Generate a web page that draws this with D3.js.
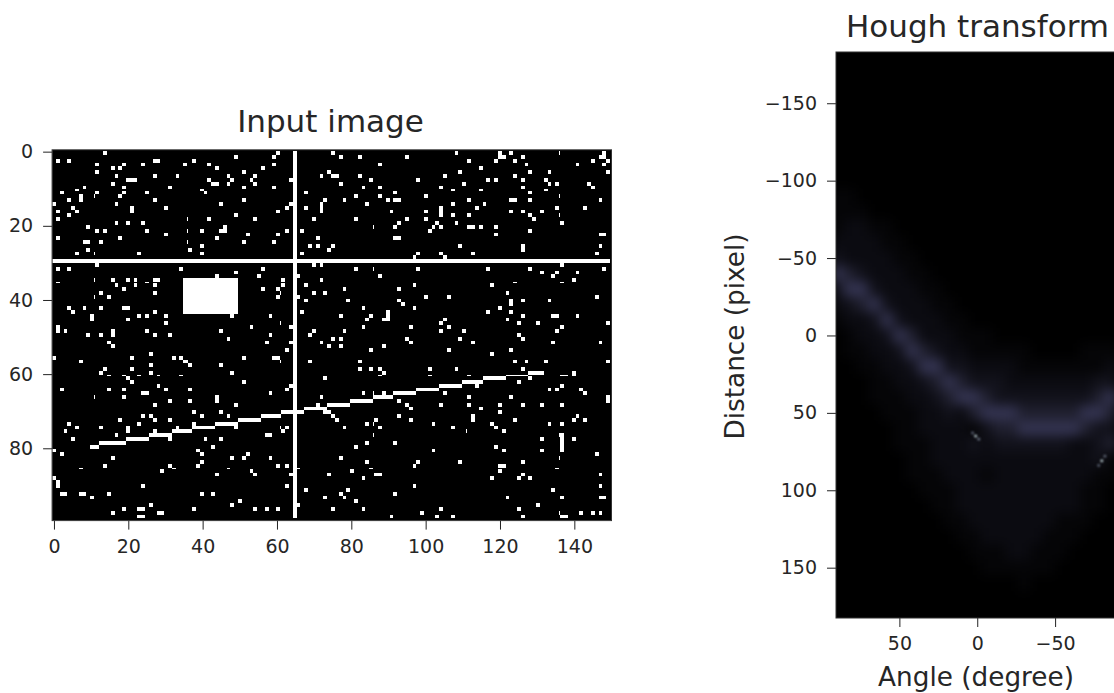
<!DOCTYPE html>
<html><head><meta charset="utf-8">
<script src="https://cdn.jsdelivr.net/npm/d3@7"></script>
<style>
html,body{margin:0;padding:0;background:#fff;overflow:hidden}
svg{display:block}
text{font-family:"DejaVu Sans",sans-serif;fill:#262626}
</style></head><body><div id="c"></div>
<script>
// ---------- Input image: white pixels ----------
const imgTickX=[0,20,40,60,80,100,120,140];
const imgTickY=[0,20,40,60,80];
const hLineRow=30;
const vLineCol=65;
const blockCols=[35,49];
const blockRows=[35,44];
// runs of the slanted segment: [first col, last col, row]
const slantRuns=[[10,12,80],[13,19,79],[20,25,78],[26,31,77],[32,37,76],[38,43,75],[44,49,74],[50,55,73],[56,61,72],[62,67,71],[68,73,70],[74,79,69],[80,85,68],[86,91,67],[92,97,66],[98,103,65],[104,109,64],[110,115,63],[116,121,62],[122,127,61],[128,131,60]];
// isolated noise pixels: row number, then its columns
const noise=[
[1,[14,60,75,108,120,123,136,148]],[2,[49,59,77,82,95,120,121,126,147,148]],[3,[1,4,27,28,38,112,119,124,145,149]],
[4,[12,19,24,35,42,59,88,127,141,148]],[5,[16,18,44,56,115]],[6,[12,51,74,109,128,133,149]],
[7,[17,27,33,47,54,72,75,76,82,105,124]],[8,[20,21,22,42,48,53,64,85,98,117,119,126,132]],[9,[16,43,44,47,54,77,110,133,135,144]],
[10,[8,19,31,51,59,83,88,104,126,145]],[11,[6,40,107,115,132]],[12,[2,12,19,25,41,68,92,128]],
[13,[7,11,18,81,88,100,136]],[14,[4,7,27,51,73,78,90,92,93,112,123,124,128,147]],[15,[0,17,45,64,72,84,107,116]],
[16,[5,21,30,63,68,72,104,114,135,143]],[17,[1,6,21,60,72,91,100,104,123,126,131]],[18,[4,49,104,107,112,128,136]],
[19,[1,36,42,54,70,81,95,100,129]],[20,[17,20,24,93,103,108,137]],[21,[9,46,86,92,102,104,112,113,115,119]],
[22,[12,14,25,36,40,45,46,63,67,101,128]],[23,[30,52,60,119,147,148]],[24,[1,18,44,71,92,93]],
[25,[8,9,13,36,51,59]],[26,[40,69,71,75,109,126,147]],[27,[9,37,74,126]],[28,[6,11,23,40,67,98,104,113,146]],
[29,[97,105]],[31,[12,70,72,137]],[32,[1,4,34,56,81,86,98,117,128,148]],[33,[49,131,135,141]],
[34,[44,55,66,88,134]],[35,[11,16,20,22,27,28,62,72,140]],[36,[1,25,124,137]],[37,[17,22,27,62,68,97,118]],
[38,[19,56,60,78,93]],[39,[13,27,61,70,73,122]],[40,[11,15,60,66,100,106,146]],[41,[68,79,93,123,126,133]],
[42,[94,123]],[43,[4,8,13,19,20,83,97,120]],[44,[5,27,67,90,117,123]],[45,[10,23,25,30,48,58,77,85,90,126,134,135,141]],
[46,[10,20,84,89,90,105,122]],[47,[30,61,104,125,130,149]],[48,[1,53,64,83,96,106,137]],[49,[1,3,16,25,45,70,78,104,110,135]],
[50,[9,13,16,27,31,58,69,125]],[51,[47,75,77,95,109,126]],[52,[15,57,64,72,96,113,134,147]],[53,[16,74,77,89]],
[54,[63,85,106,123]],[55,[26,118]],[56,[0,21,32,34,51,59,60]],[57,[7,35,36,61,69,82,124,127,132,149]],
[58,[26,37,45]],[59,[14,21,82,85,88,101,108,126]],[60,[13,26,48,89,140]],[61,[15,19,23,28,34,88,101,112,137,138,140]],
[62,[20,73,128]],[63,[21,51,125]],[64,[28,64,114,137]],[65,[2,15,19,30,37,63,133,135,142]],
[66,[24,25,58,83,86,89,105,143]],[67,[11,19,44,72,112,123,149]],[68,[31,37,44,93,149]],[69,[27,49,71,74,95,104,112,120,126,131,137]],
[70,[72,96,115]],[71,[38,45,73,74,120]],[72,[24,26,40,47,75,93,113,141]],[73,[18,27,31,76,87,96,113,124,140,143]],
[74,[4,23,38,84,86,102,118,133,137]],[75,[6,13,20,33,49,61,63,78,88,107,119]],[76,[3,20,27,62,111,121]],[77,[17,57,58,86,136,137]],
[78,[5,31,41,45,131,137,140]],[79,[84,92,137]],[80,[43,81,119,137]],[81,[0,39,102,121,131,137]],
[82,[2,40,52,146]],[83,[16,48,51,58,77,136]],[84,[40,84,98,109,126]],[85,[14,31,39,60,63,97,120,121]],
[86,[7,32,47,66,85,135]],[87,[29,53,80,120]],[88,[44,54,64,74,87,88,126,147]],[89,[0,83,118,125,128]],
[90,[1]],[91,[1,24,63,97,147]],[92,[68,79,134]],[93,[2,3,7,8,15,40,43,77,92]],
[94,[10,73,78,122,137,147,148]],[95,[50,81]],[96,[26,48,66,130]],[97,[19,23,24,38,54,57,60,75,83,104,125]],
[98,[16,28,29,99,136,142,145,147]],[99,[23,24,91,103,107,126,137,138]]];

// ---------- Hough transform: brightness levels ----------
const houghTickX=[50,0,-50];
const houghTickY=[-150,-100,-50,0,50,100,150];
const houghAngles=[90,82,74,66,58,50,42,34,26,18,10,2,-6,-14,-22,-30,-38,-46,-54,-62,-70,-78,-86];
const houghDistances=[-100,-90,-80,-70,-60,-50,-40,-30,-20,-10,0,10,20,30,40,50,60,70,80,90,100,110,120,130,140,150,160];
const houghLevels=[
"00000000000000000000000",
"11000000000000000000000",
"11100000000000000000000",
"12211000000000000000000",
"22221100000000000000000",
"32222110000000000000000",
"54322211000000000000000",
"35532221100000000000000",
"23453222110000000000000",
"12235322211000000000000",
"01223542221110000000000",
"01122354322111110000111",
"00112235533222211111112",
"00011223454333222222233",
"00011122345543333333345",
"00001112232455544444554",
"00000112222134455555433",
"00000111222323333332234",
"00000011222222222222231",
"00000011122212222222211",
"00000001112222222222110",
"00000000112222222222110",
"00000000011222222211100",
"00000000001122222111000",
"00000000000111221110000",
"00000000000011111100000",
"00000000000000010000000"];
// bright crossing points: angle, distance, level
const houghPeakAngles=[3,1,-1,-78,-80,-82];
const houghPeakDistances=[63,65,67,84,81,78];
const houghPeakLevels=[.3,1,.4,.3,1,.35];

const W=1114,H=693;
const svg=d3.select("#c").append("svg").attr("width",W).attr("height",H);
const defs=svg.append("defs");

// ---- scales ----
const xL=d3.scaleLinear().domain([-0.5,150]).range([52.1,611.5]);
const yL=d3.scaleLinear().domain([-0.5,99.5]).range([149.8,520.6]);
const xR=d3.scaleLinear().domain([90.7,-90]).range([836,1117.4]);
const yR=d3.scaleLinear().domain([-183.1,182.5]).range([52,618]);

// the picture's resampling shows every 25th cell narrower
const wide=1.028,thin=0.343;
const edge=i=>{const k=Math.floor((i+13)/25);return wide*i-(wide-thin)*k;};
const cellX=i=>xL(-0.5+edge(i));
const cellY=i=>yL(-1.15+edge(i));
const cellW=i=>xL(edge(i+1))-xL(edge(i));
const cellH=i=>yL(edge(i+1))-yL(edge(i));

// ---- build cells from data ----
const cells=[];
noise.forEach(([r,cs])=>cs.forEach(c=>cells.push([c,r])));
slantRuns.forEach(([a,b,r])=>d3.range(a,b+1).forEach(c=>cells.push([c,r])));
d3.range(0,150).forEach(c=>cells.push([c,hLineRow]));
d3.range(1,100).forEach(r=>cells.push([vLineCol,r]));
d3.range(blockCols[0],blockCols[1]+1).forEach(c=>d3.range(blockRows[0],blockRows[1]+1).forEach(r=>cells.push([c,r])));

// ---- left panel ----
const lx=xL(-0.5),ly=yL(-0.5),lw=xL(150)-lx,lh=yL(99.5)-ly;
defs.append("clipPath").attr("id","clipL").append("rect").attr("x",lx).attr("y",ly).attr("width",lw).attr("height",lh);
const gL=svg.append("g").attr("clip-path","url(#clipL)");
gL.append("rect").attr("x",lx).attr("y",ly).attr("width",lw).attr("height",lh).attr("fill","#000");
gL.append("g").attr("shape-rendering","crispEdges").selectAll("rect").data(cells).join("rect")
  .attr("x",d=>cellX(d[0])).attr("y",d=>cellY(d[1]))
  .attr("width",d=>cellW(d[0])).attr("height",d=>cellH(d[1])).attr("fill","#fff");

// ---- right panel ----
const rx=xR(90.7),ry=yR(-183.1),rw=xR(-90)-rx,rh=yR(182.5)-ry;
defs.append("clipPath").attr("id","clipR").append("rect").attr("x",rx).attr("y",ry).attr("width",rw).attr("height",rh);
const blur=defs.append("filter").attr("id","soft").attr("filterUnits","userSpaceOnUse").attr("x",780).attr("y",0).attr("width",400).attr("height",693).attr("color-interpolation-filters","sRGB");
blur.append("feGaussianBlur").attr("stdDeviation",6);
const spark=defs.append("filter").attr("id","spark").attr("filterUnits","userSpaceOnUse").attr("x",780).attr("y",0).attr("width",400).attr("height",693).attr("color-interpolation-filters","sRGB");
spark.append("feGaussianBlur").attr("stdDeviation",0.8);
const color=d3.scaleLinear().domain([0,1,2,3,4,5]).range(["#000000","#050507","#0b0b11","#12121b","#20202f","#333350"]);
const gR=svg.append("g").attr("clip-path","url(#clipR)");
gR.append("rect").attr("x",rx).attr("y",ry).attr("width",rw).attr("height",rh).attr("fill","#000");
const dA=Math.abs(xR(8)-xR(0)),dD=Math.abs(yR(10)-yR(0));
const heat=[];
houghLevels.forEach((row,i)=>row.split("").forEach((v,j)=>heat.push({a:houghAngles[j],d:houghDistances[i],v:+v})));
gR.append("g").attr("filter","url(#soft)").selectAll("rect").data(heat).join("rect")
  .attr("x",d=>xR(d.a)-dA/2).attr("y",d=>yR(d.d)-dD/2).attr("width",dA+.5).attr("height",dD+.5).attr("fill",d=>color(d.v));
gR.append("g").attr("filter","url(#spark)").selectAll("ellipse").data(houghPeakAngles).join("ellipse")
  .attr("cx",d=>xR(d)).attr("cy",(d,i)=>yR(houghPeakDistances[i])).attr("rx",1.4).attr("ry",1.4)
  .attr("fill",(d,i)=>d3.interpolateRgb("#2e2e46","#c8dce0")(houghPeakLevels[i]));

// ---- axes ----
function axis(g,ax){
  g.call(ax);
  g.selectAll("text").style("font-size","19px");
  g.selectAll(".tick line").attr("stroke","#222").attr("stroke-width",1);
  g.select(".domain").remove();
}
const fmt=d=>d<0?"\u2212"+Math.abs(d):""+d;
axis(svg.append("g").attr("transform",`translate(0,${yL(99.5)})`),d3.axisBottom(xL).tickValues(imgTickX).tickFormat(fmt).tickSize(9).tickPadding(10));
axis(svg.append("g").attr("transform",`translate(${lx},0)`),d3.axisLeft(yL).tickValues(imgTickY).tickFormat(fmt).tickSize(9).tickPadding(10));
axis(svg.append("g").attr("transform",`translate(0,${yR(182.5)})`),d3.axisBottom(xR).tickValues(houghTickX).tickFormat(fmt).tickSize(9).tickPadding(10));
axis(svg.append("g").attr("transform",`translate(${rx},0)`),d3.axisLeft(yR).tickValues(houghTickY).tickFormat(fmt).tickSize(9).tickPadding(10));

const frame=(x,y,w,h)=>svg.append("rect").attr("x",x).attr("y",y).attr("width",w).attr("height",h).attr("fill","none").attr("stroke","#333").attr("stroke-width",1);
frame(lx,ly,lw,lh);
frame(rx,ry,rw,rh);

// ---- text ----
const label=(t,x,y,fs,rot)=>{const s=svg.append("text").text(t).attr("text-anchor","middle").style("font-size",fs+"px");
  if(rot)s.attr("transform",`translate(${x},${y}) rotate(-90)`);else s.attr("x",x).attr("y",y);};
label("Input image",330.5,132,31);
label("Hough transform",977.5,37,31);
label("Angle (degree)",976,686,26.3);
label("Distance (pixel)",743.5,336.5,26.3,true);
</script></body></html>
